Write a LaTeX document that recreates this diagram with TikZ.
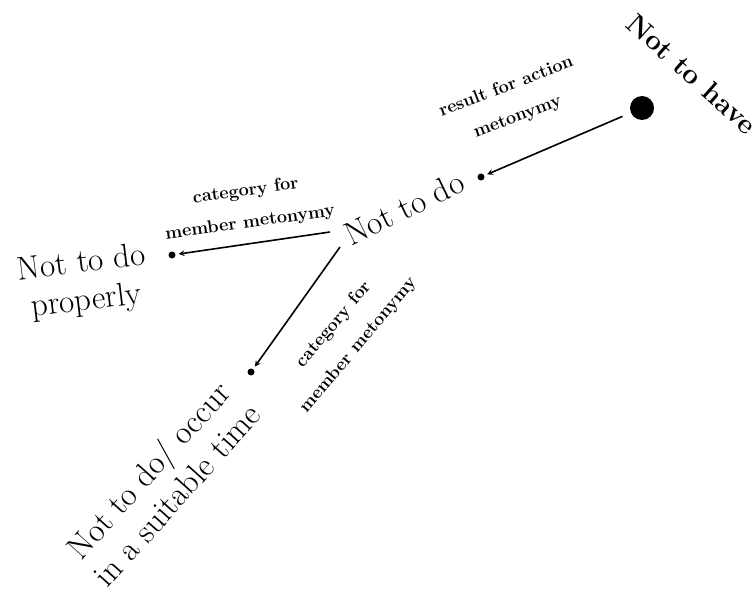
\documentclass[tikz,border=0pt]{standalone}
\usepackage{tikz}

\tikzset{
  dotnode/.style={circle,fill=black,inner sep=0pt,minimum size=7pt},
  bigdot/.style={circle,fill=black,inner sep=0pt,minimum size=24pt},
  term/.style={align=center,inner sep=0pt,font=\fontsize{33}{38}\selectfont},
  linklabel/.style={align=center,inner sep=0pt,font=\bfseries\fontsize{18}{32}\selectfont},
  link/.style={->,line width=1.6pt,shorten >=3pt}
}

\begin{document}
\begin{tikzpicture}[>=stealth,x=1pt,y=-1pt]
\useasboundingbox (0,0) rectangle (755,591);

\node[bigdot] (H) at (642,108) {};
\node[dotnode] (D) at (481,177) {};
\node[dotnode] (P) at (172,255) {};
\node[dotnode] (T) at (251,372) {};

\node[term,font=\bfseries\fontsize{28}{32}\selectfont,rotate=-42] (have) at (692,74) {Not to have};
\node[term,rotate=26] (do) at (404,208) {Not to do};
\node[term,rotate=7] (proper) at (84,283) {Not to do\\properly};
\node[term,rotate=48] (time) at (162,482) {Not to do/ occur\\in a suitable time};

\coordinate (do-w) at (330,232);
\coordinate (do-s) at (340,247);

\draw[link,shorten <=9pt] (H) -- (D);
\draw[link] (do-w) -- (P);
\draw[link] (do-s) -- (T);

\node[linklabel,rotate=21] (l1) at (512,102) {result for action\\metonymy};
\node[linklabel,rotate=8] (l2) at (248,207) {category for\\member metonymy};
\node[linklabel,rotate=50] (l3) at (346,335) {category for\\member metonymy};
\end{tikzpicture}
\end{document}
